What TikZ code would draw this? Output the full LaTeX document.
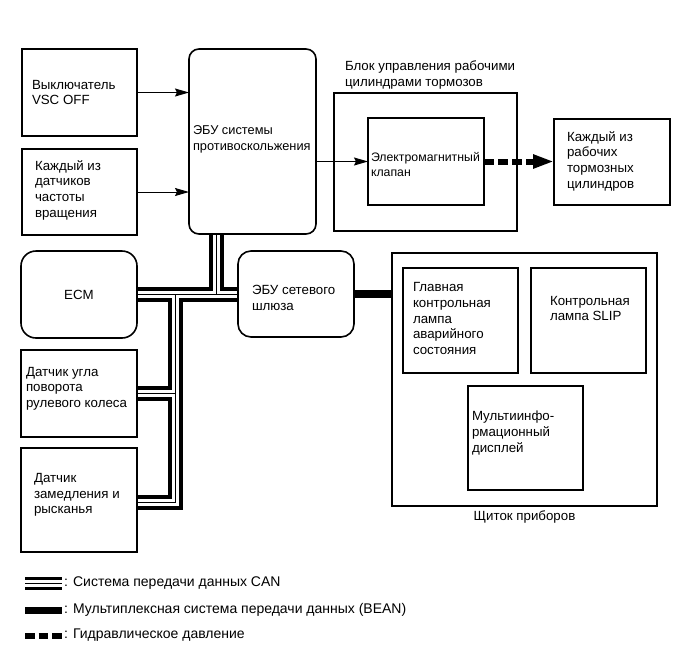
\documentclass[tikz,border=0pt]{standalone}
\usepackage{fontspec}
\setmainfont{Liberation Sans}
\usetikzlibrary{positioning,arrows.meta,backgrounds}

\begin{document}
\begin{tikzpicture}[x=1pt, y=-1pt, inner sep=0pt, outer sep=0pt,
  every node/.style={font=\fontsize{13.3}{15.7}\selectfont},
  blk/.style={draw=black, line width=1.6pt, anchor=north west},
  rblk/.style={blk, rounded corners=#1},
  txt/.style={align=left, anchor=west},
  legtxt/.style={anchor=west, font=\fontsize{14}{16}\selectfont},
  sig/.style={draw=black, line width=1pt, -{Stealth[length=14pt,width=8pt,inset=2pt]}},
  bean/.style={draw=black, line width=8pt},
  hydr/.style={draw=black, line width=6pt, dash pattern=on 10pt off 4pt}]
  \useasboundingbox (0,0) rectangle (690,659);

  % left column
  \node[blk, minimum width=115pt, minimum height=87pt] (vsc) at (22,49) {};
  \node[txt, right=10pt of vsc.west] (tvsc) {Выключатель\\VSC OFF};

  \node[blk, minimum width=115pt, minimum height=86pt] (speed) at (22,149) {};
  \node[txt, right=13pt of speed.west, yshift=2pt] (tspeed) {Каждый из\\датчиков\\частоты\\вращения};

  \node[rblk=15pt, minimum width=116pt, minimum height=87pt] (ecm) at (21,251) {ECM};

  \node[blk, minimum width=116pt, minimum height=87pt] (steer) at (21,350) {};
  \node[txt, right=5pt of steer.west, yshift=5pt] (tsteer) {Датчик угла\\поворота\\рулевого колеса};

  \node[blk, minimum width=116pt, minimum height=104pt] (yaw) at (21,448) {};
  \node[txt, right=13pt of yaw.west, yshift=5pt] (tyaw) {Датчик\\замедления и\\рысканья};

  % ECUs
  \node[rblk=10pt, minimum width=127pt, minimum height=185pt] (abs) at (189,49) {};
  \node[txt, right=4pt of abs.west, yshift=2pt, font=\fontsize{12.8}{15.7}\selectfont] (tabs) {ЭБУ системы\\противоскольжения};

  \node[rblk=13pt, minimum width=116pt, minimum height=86pt] (gw) at (238,251) {};
  \node[txt, right=14pt of gw.west, yshift=-4pt] (tgw) {ЭБУ сетевого\\шлюза};

  % brake actuator
  \node[blk, minimum width=183pt, minimum height=138pt] (act) at (334,93) {};
  \node[align=left, above right=4pt and 11pt of act.north west] (tact) {Блок управления рабочими\\цилиндрами тормозов};

  \node[blk, minimum width=116pt, minimum height=87pt] (valve) at (368,118) {};
  \node[txt, right=3pt of valve.west, yshift=-3pt, font=\fontsize{12.3}{15.7}\selectfont] (tvalve) {Электромагнитный\\клапан};

  \node[blk, minimum width=116pt, minimum height=86pt] (cyl) at (554,119) {};
  \node[txt, right=13pt of cyl.west, yshift=1pt] (tcyl) {Каждый из\\рабочих\\тормозных\\цилиндров};

  % combination meter
  \node[blk, minimum width=265pt, minimum height=253pt] (cluster) at (392,253) {};
  \node[below=5pt of cluster] (tcluster) {Щиток приборов};

  \node[blk, minimum width=115pt, minimum height=105pt] (lamp) at (403,268) {};
  \node[txt, right=10pt of lamp.west, yshift=2pt] (tlamp) {Главная\\контрольная\\лампа\\аварийного\\состояния};

  \node[blk, minimum width=115pt, minimum height=105pt] (slip) at (531,268) {};
  \node[txt, right=19pt of slip.west, yshift=12pt] (tslip) {Контрольная\\лампа SLIP};

  \node[blk, minimum width=115pt, minimum height=104pt] (multi) at (468,386) {};
  \node[txt, right=4pt of multi.west, yshift=5pt] (tmulti) {Мультиинфо-\\рмационный\\дисплей};

  % signals
  \draw[sig] (vsc.east) -- (vsc.east -| abs.west);
  \draw[sig] (speed.east) -- (speed.east -| abs.west);
  \draw[sig] (abs.east |- valve.west) -- (valve.west);
  \draw[hydr, -{Triangle[length=21pt,width=13pt]}] (valve.east) -- (valve.east -| cyl.west);

  % CAN and BEAN lines
  \coordinate (j1) at (216,294);
  \coordinate (j2) at (175,294);
  \coordinate (j3) at (175,393);
  \coordinate (j4) at (175,502);
  \begin{scope}[on background layer]
    \foreach \w/\c in {15/black,7/white,1/black}
      \draw[line width=\w pt, draw=\c] (abs.south -| j1) -- (j1)
        (ecm.east |- j1) -- (gw.west |- j1)
        (j2) -- (j4) -- (yaw.east |- j4)
        (j3) -- (steer.east |- j3);
    \draw[bean] (gw.east |- j1) -- (cluster.west |- j1);
  \end{scope}

  % legend
  \coordinate (lcan) at (25,583);
  \coordinate (lbean) at (25,610);
  \coordinate (lhydr) at (25,636);
  \foreach \w/\c in {13/black,7/white,1/black}
    \draw[line width=\w pt, draw=\c] (lcan) -- ++(37,0);
  \draw[line width=7pt] (lbean) -- ++(37,0);
  \draw[hydr, line width=6pt, dash pattern=on 9.5pt off 4pt] (lhydr) -- ++(37,0);
  \node[legtxt] (tlcan) at (64,583) {: Система передачи данных CAN};
  \node[legtxt] (tlbean) at (64,610) {: Мультиплексная система передачи данных (BEAN)};
  \node[legtxt] (tlhydr) at (64,635) {: Гидравлическое давление};
\end{tikzpicture}
\end{document}
